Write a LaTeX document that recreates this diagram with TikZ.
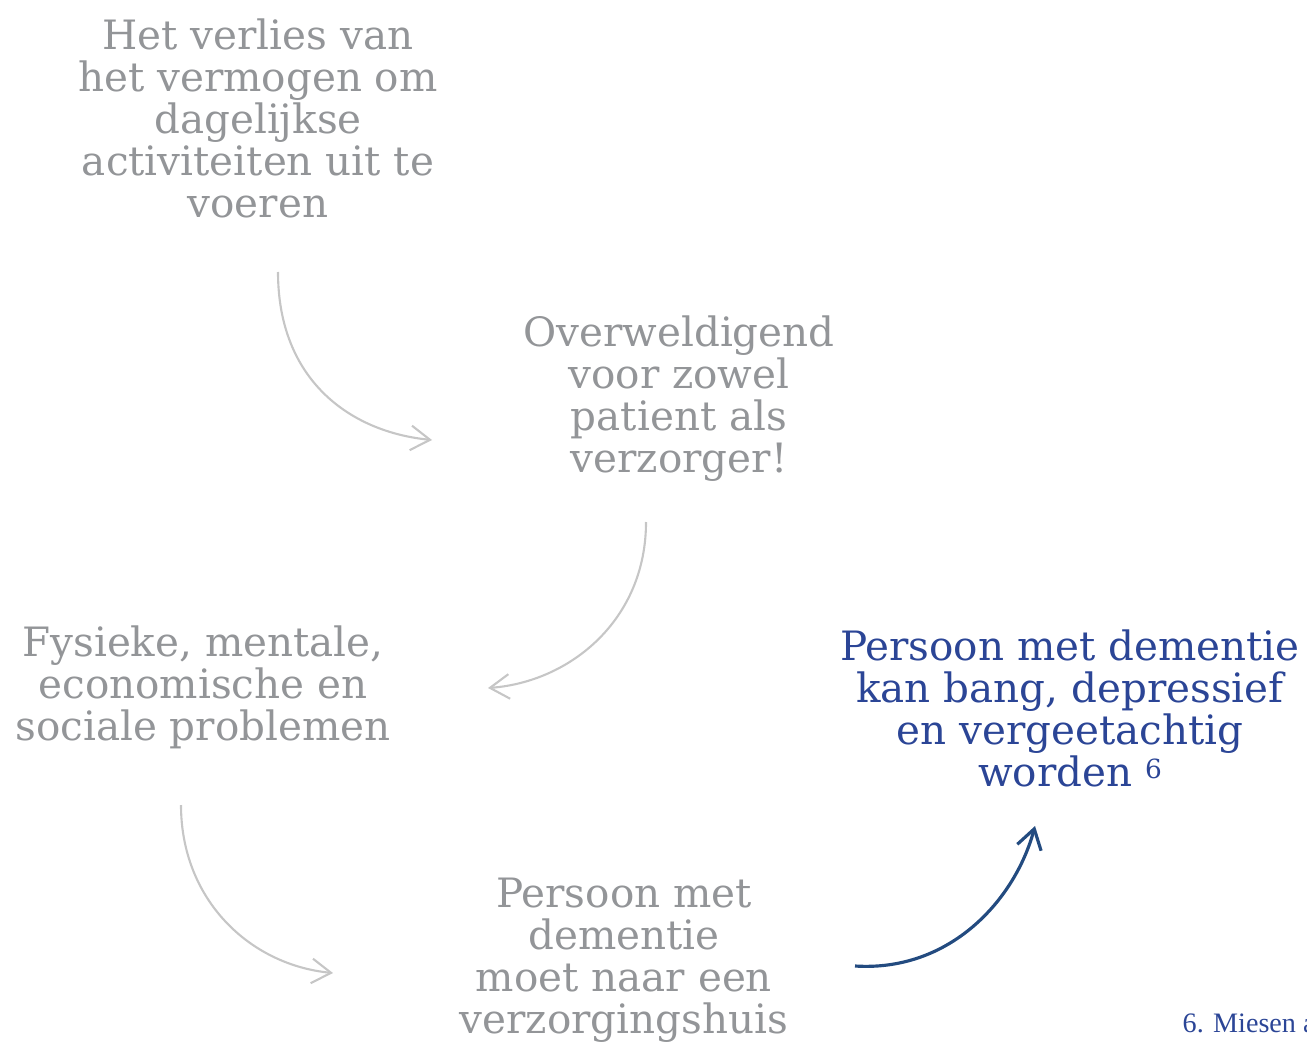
\documentclass[tikz,border=0pt]{standalone}
\usepackage{fontspec}
\setmainfont{DejaVu Serif}
\newfontfamily\notefont{Liberation Serif}
\usetikzlibrary{arrows.meta,positioning}

\definecolor{txtgrey}{HTML}{939598}
\definecolor{arrgrey}{HTML}{C6C6C6}
\definecolor{txtblue}{HTML}{2B4596}
\definecolor{arrblue}{HTML}{234B80}

\begin{document}
\begin{tikzpicture}[x=0.01cm, y=-0.01cm, >={Straight Barb[length=5.5pt, width=7pt]},
  txtbox/.style = {align=center, inner sep=0pt, font=\fontsize{11.5}{11.95}\selectfont},
  grey/.style = {txtbox, text=txtgrey},
  blue/.style = {txtbox, text=txtblue},
  flow/.style = {->, arrgrey, line width=0.6pt},
  flowblue/.style = {->, arrblue, line width=0.9pt}]
  \useasboundingbox (0,0) rectangle (1307,1049);

  % Nodes
  \node[grey] (verlies) at (258,118) {Het verlies van\\het vermogen om\\dagelijkse\\activiteiten uit te\\voeren};
  \node[grey] (overweldigend) at (679,399) {Overweldigend\\voor zowel\\patient als\\verzorger!};
  \node[grey] (problemen) at (203,687) {Fysieke, mentale,\\economische en\\sociale problemen};
  \node[grey] (verzorgingshuis) at (624,960) {Persoon met\\dementie\\moet naar een\\verzorgingshuis};
  \node[blue] (bang) at (1070,708) {Persoon met dementie\\kan bang, depressief\\en vergeetachtig\\worden \raisebox{0.35ex}{\fontsize{7.5}{7.5}\selectfont 6}};
  \node[anchor=base west, inner sep=0pt, text=txtblue, font=\notefont\fontsize{8}{9}\selectfont] (noot) at (1182,1032) {6. Miesen a};

  % Ends of the arrows
  \coordinate (v_out) at (278,272);
  \coordinate (o_in) at (432,440);
  \coordinate (o_out) at (646,522);
  \coordinate (p_in) at (488,688);
  \coordinate (p_out) at (181,805);
  \coordinate (h_in) at (333,973);
  \coordinate (h_out) at (855,966);
  \coordinate (b_in) at (1035,826);

  % Paths
  \draw[flow] (v_out) .. controls (278,380) and (350,432) .. (o_in);
  \draw[flow] (o_out) .. controls (646,620) and (570,682) .. (p_in);
  \draw[flow] (p_out) .. controls (181,900) and (250,965) .. (h_in);
  \draw[flowblue] (h_out) .. controls (950,972) and (1015,900) .. (b_in);
\end{tikzpicture}
\end{document}
